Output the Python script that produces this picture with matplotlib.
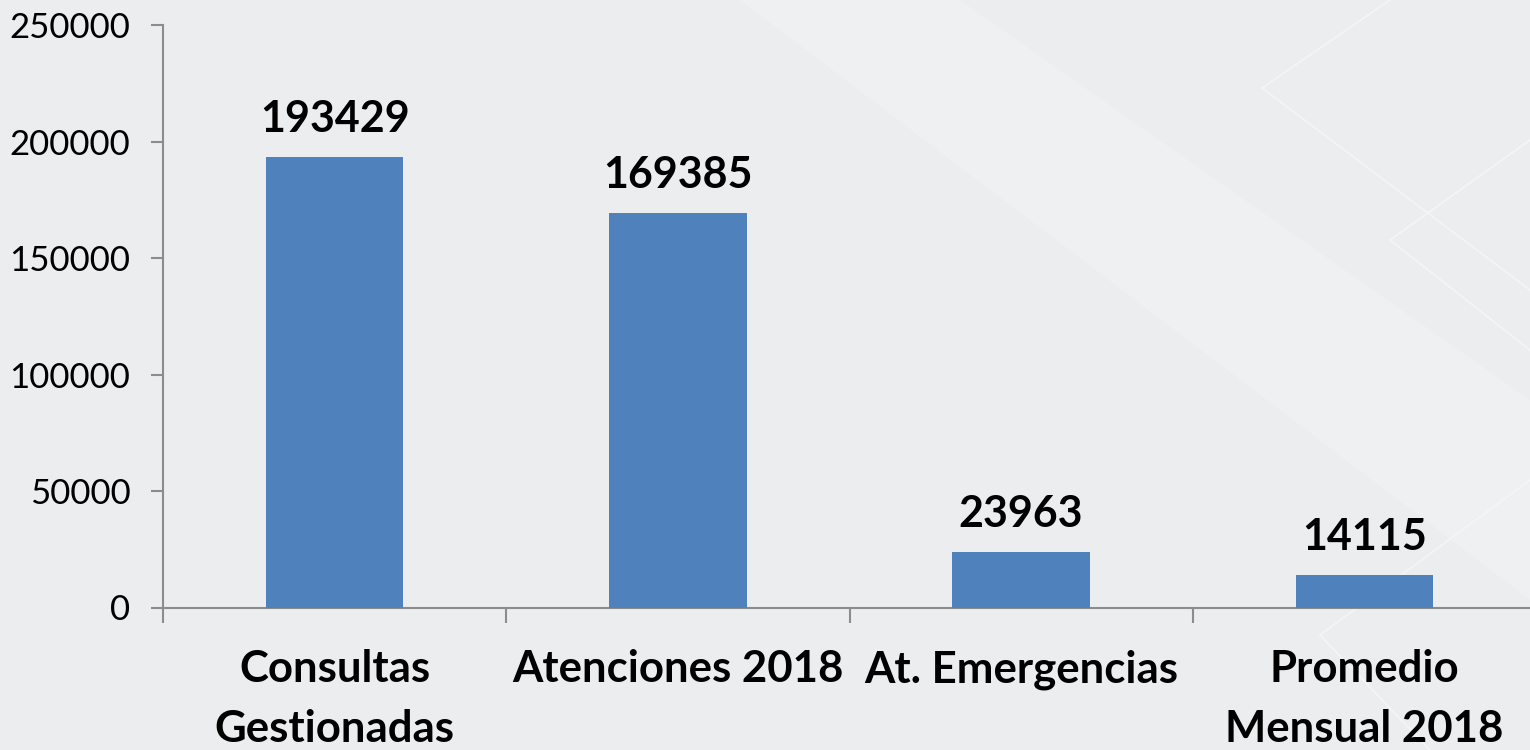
import matplotlib
matplotlib.use("Agg")
import matplotlib.pyplot as plt
from matplotlib.patches import Polygon
from matplotlib.lines import Line2D

# data
categories = ["Consultas\nGestionadas", "Atenciones 2018", "At. Emergencias", "Promedio\nMensual 2018"]
values = [193429, 169385, 23963, 14115]
y_ticks = [0, 50000, 100000, 150000, 200000, 250000]

BG = "#ECEDEF"
BAR = "#4F81BD"
AXIS = "#8C8C8C"
FONT = "Lato"

fig = plt.figure(figsize=(15.3, 7.5), dpi=100, facecolor=BG)

# decorative lighter diagonal band and faint diamond outlines (figure pixels -> fraction)
W, H = 1530.0, 750.0
def fp(x, y):
    return (x / W, 1 - y / H)

band = Polygon([fp(740, 0), fp(960, 0), fp(1530, 400), fp(1530, 600)],
               closed=True, transform=fig.transFigure, facecolor="#EFF0F2",
               edgecolor="none", zorder=-2)
fig.patches.append(band)
for seg in [[(1262, 88), (1390, 0)], [(1262, 88), (1530, 290)],
            [(1390, 240), (1530, 140)], [(1390, 240), (1530, 350)],
            [(1320, 635), (1530, 480)], [(1320, 635), (1430, 750)]]:
    xs, ys = zip(*[fp(*p) for p in seg])
    fig.lines.append(Line2D(xs, ys, transform=fig.transFigure, color="#F4F5F6",
                            linewidth=1.2, zorder=-1))

ax = fig.add_axes([163 / W, 1 - 607.5 / H, (1536 - 163) / W, (607.5 - 25) / H])
ax.set_facecolor("none")
ax.set_zorder(2)

x = list(range(len(categories)))
bars = ax.bar(x, values, width=0.4, color=BAR, zorder=3)

for xi, v in zip(x, values):
    ax.annotate(str(v), (xi, v), xytext=(0, 13), textcoords="offset points",
                ha="center", va="bottom", fontsize=31, fontweight="bold",
                family=FONT, color="black")

ax.set_xlim(-0.5, len(categories) - 0.5)
ax.set_ylim(0, 250000)
ax.set_yticks(y_ticks)
ax.set_yticklabels([str(t) for t in y_ticks], family=FONT, fontsize=25)

ax.set_xticks(x)
ax.set_xticklabels(categories, family=FONT, fontsize=31.5, fontweight="bold",
                   linespacing=1.6)
ax.set_xticks([i - 0.5 for i in range(len(categories) + 1)], minor=True)

ax.tick_params(axis="x", which="major", length=0, pad=30)
ax.tick_params(axis="x", which="minor", length=11, width=1.5, color=AXIS, direction="out")
ax.tick_params(axis="y", length=8.5, width=1.5, color=AXIS, direction="out", pad=15)

for side in ["top", "right"]:
    ax.spines[side].set_visible(False)
for side in ["left", "bottom"]:
    ax.spines[side].set_color(AXIS)
    ax.spines[side].set_linewidth(1.5)

fig.savefig("out.png", dpi=100, facecolor=BG)
